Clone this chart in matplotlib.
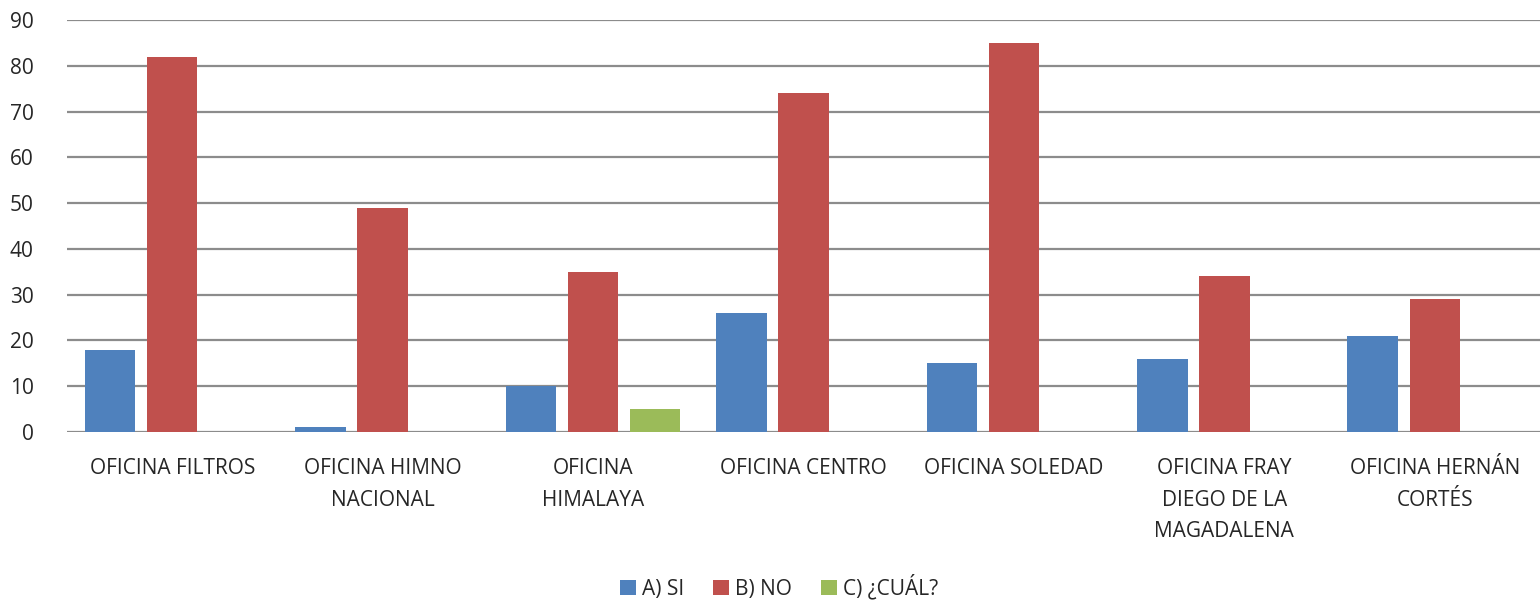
import matplotlib
matplotlib.use("Agg")
import matplotlib.pyplot as plt
import numpy as np

plt.rcParams['font.family'] = ['Open Sans', 'DejaVu Sans']

categories = [
    "OFICINA FILTROS",
    "OFICINA HIMNO\nNACIONAL",
    "OFICINA\nHIMALAYA",
    "OFICINA CENTRO",
    "OFICINA SOLEDAD",
    "OFICINA FRAY\nDIEGO DE LA\nMAGADALENA",
    "OFICINA HERNÁN\nCORTÉS",
]
series_names = ["A) SI", "B) NO", "C) ¿CUÁL?"]
si_values = [18, 1, 10, 26, 15, 16, 21]
no_values = [82, 49, 35, 74, 85, 34, 29]
cual_values = [0, 0, 5, 0, 0, 0, 0]
y_ticks = [0, 10, 20, 30, 40, 50, 60, 70, 80, 90]

colors = ["#4F81BD", "#C0504D", "#9BBB59"]
text_color = "#262626"

fig = plt.figure(figsize=(15.4, 6.02), dpi=100)
ax = fig.add_axes([0.0435, 0.2824, 0.9565, 0.6844])

x = np.arange(len(categories))
width = 0.24
step = 0.295
for i, (vals, name, col) in enumerate(zip([si_values, no_values, cual_values], series_names, colors)):
    ax.bar(x + (i - 1) * step, vals, width=width, color=col, label=name, zorder=3)

ax.set_xlim(-0.5, len(categories) - 0.5)
ax.set_ylim(0, 90)
ax.set_yticks(y_ticks)
ax.yaxis.grid(True, color="#8c8c8c", linewidth=1.6, zorder=0)
ax.set_axisbelow(True)
for s in ax.spines.values():
    s.set_visible(False)
ax.tick_params(axis="both", length=0, labelsize=15, colors=text_color)
ax.tick_params(axis="y", pad=24)
ax.tick_params(axis="x", pad=19)
ax.set_xticks(x)
ax.set_xticklabels(categories, linespacing=1.65)

ax.legend(loc="center", bbox_to_anchor=(0.506, 0.025), bbox_transform=fig.transFigure,
          ncol=3, frameon=False, fontsize=15, handlelength=0.75, handleheight=0.75,
          handletextpad=0.3, columnspacing=1.4, labelcolor=text_color)

fig.savefig("out.png", dpi=100)
